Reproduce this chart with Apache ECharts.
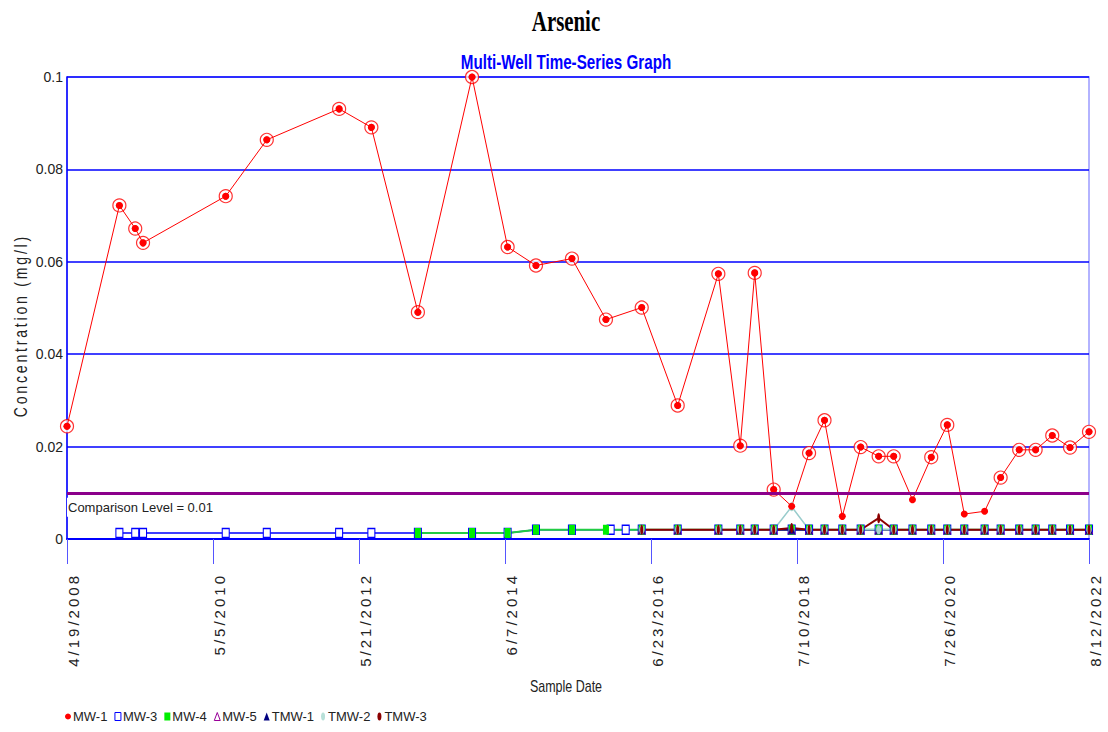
<!DOCTYPE html>
<html>
<head>
<meta charset="utf-8">
<script src="https://cdn.jsdelivr.net/npm/echarts@6/dist/echarts.min.js"></script>
<style>html,body{margin:0;padding:0;background:#fff}#chart{width:1108px;height:732px}</style>
</head>
<body>
<div id="chart"></div>
<script>
// ---------------- DATA ----------------
const tickLabels = ['4/19/2008', '5/5/2010', '5/21/2012', '6/7/2014', '6/23/2016', '7/10/2018', '7/26/2020', '8/12/2022'];
const comparisonLevel = 0.01;

const mw1Dates = ['2008-04-19','2009-01-12','2009-04-03','2009-05-13','2010-07-10','2011-02-05','2012-02-10','2012-07-24',
  '2013-03-19','2013-12-21','2014-06-21','2014-11-13','2015-05-16','2015-11-06','2016-05-07','2016-11-07','2017-06-03',
  '2017-09-23','2017-12-06','2018-03-13','2018-06-13','2018-09-10','2018-11-28','2019-02-27','2019-06-01','2019-09-01',
  '2019-11-17','2020-02-21','2020-05-27','2020-08-17','2020-11-12','2021-02-24','2021-05-17','2021-08-20','2021-11-12',
  '2022-02-05','2022-05-07','2022-08-12'];
const mw1Values = [0.0244,0.0722,0.0672,0.0641,0.0742,0.0864,0.0931,0.0891,0.0491,0.1,0.0632,0.0592,0.0607,0.0475,
  0.0501,0.0289,0.0574,0.0202,0.0576,0.0107,0.0071,0.0186,0.0257,0.0049,0.0199,0.0179,0.0179,0.0085,0.0177,0.0247,
  0.0054,0.006,0.0133,0.0193,0.0193,0.0224,0.0198,0.0232];
// 1 = detected (ringed marker), 0 = plain dot
const mw1Detected = [1,1,1,1,1,1,1,1,1,1,1,1,1,1,1,1,1,1,1,1,0,1,1,0,1,1,1,0,1,1,0,0,1,1,1,1,1,1];

const mw3Dates = ['2009-01-12','2009-04-03','2009-05-13','2010-07-10','2011-02-05','2012-02-10','2012-07-24','2013-03-19',
  '2013-12-21','2014-06-21','2014-11-13','2015-05-16','2015-11-30','2016-02-15','2016-05-07','2016-11-07','2017-06-03',
  '2017-09-23','2017-12-06','2018-03-13','2018-06-13','2018-09-10','2018-11-28','2019-02-27','2019-06-01','2019-09-01',
  '2019-11-17','2020-02-21','2020-05-27','2020-08-17','2020-11-12','2021-02-24','2021-05-17','2021-08-20','2021-11-12',
  '2022-02-05','2022-05-07','2022-08-12'];
const mw3Values = [0.0013,0.0013,0.0013,0.0013,0.0013,0.0013,0.0013,0.0013,0.0013,0.0013,0.002,0.002,0.002,0.002,
  0.002,0.002,0.002,0.002,0.002,0.002,0.002,0.002,0.002,0.002,0.002,0.002,0.002,0.002,0.002,0.002,0.002,0.002,0.002,
  0.002,0.002,0.002,0.002,0.002];

const mw4Dates = ['2013-03-19','2013-12-21','2014-06-21','2014-11-13','2015-05-16','2015-11-06','2016-05-07','2016-11-07',
  '2017-06-03','2017-09-23','2017-12-06','2018-03-13','2018-06-13','2018-09-10','2018-11-28','2019-02-27','2019-06-01',
  '2019-09-01','2019-11-17','2020-02-21','2020-05-27','2020-08-17','2020-11-12','2021-02-24','2021-05-17','2021-08-20',
  '2021-11-12','2022-02-05','2022-05-07','2022-08-12'];
const mw4Values = [0.0013,0.0013,0.0013,0.002,0.002,0.002,0.002,0.002,0.002,0.002,0.002,0.002,0.002,0.002,0.002,
  0.002,0.002,0.002,0.002,0.002,0.002,0.002,0.002,0.002,0.002,0.002,0.002,0.002,0.002,0.002];

const lateDates = ['2016-05-07','2016-11-07','2017-06-03','2017-09-23','2017-12-06','2018-03-13','2018-06-13','2018-09-10',
  '2018-11-28','2019-02-27','2019-06-01','2019-09-01','2019-11-17','2020-02-21','2020-05-27','2020-08-17','2020-11-12',
  '2021-02-24','2021-05-17','2021-08-20','2021-11-12','2022-02-05','2022-05-07','2022-08-12'];
const mw5Values  = [0.002,0.002,0.002,0.002,0.002,0.002,0.002,0.002,0.002,0.002,0.002,0.002,0.002,0.002,0.002,0.002,
  0.002,0.002,0.002,0.002,0.002,0.002,0.002,0.002];
const tmw1Values = [0.002,0.002,0.002,0.002,0.002,0.002,0.002,0.002,0.002,0.002,0.002,0.002,0.002,0.002,0.002,0.002,
  0.002,0.002,0.002,0.002,0.002,0.002,0.002,0.002];
const tmw2Values = [0.002,0.002,0.002,0.002,0.002,0.002,0.007,0.002,0.002,0.002,0.002,0.002,0.002,0.002,0.002,0.002,
  0.002,0.002,0.002,0.002,0.002,0.002,0.002,0.002];
const tmw3Values = [0.002,0.002,0.002,0.002,0.002,0.002,0.0024,0.002,0.002,0.002,0.002,0.0045,0.002,0.002,0.002,0.002,
  0.002,0.002,0.002,0.002,0.002,0.002,0.002,0.002];

// ---------------- HELPERS ----------------
const baseTime = Date.parse(mw1Dates[0]);
const dayOf = d => (Date.parse(d) - baseTime) / 86400000;
const spanDays = dayOf(mw1Dates[mw1Dates.length - 1]);
const tickStep = spanDays / (tickLabels.length - 1);
const tickValues = tickLabels.map((_, i) => i * tickStep);
const pts = (dates, vals) => dates.map((d, i) => [dayOf(d), vals[i]]);
const spaced = s => s.split('').join('\u2009');

const SANS = "'Liberation Sans', Arial, sans-serif";
const ELLIPSE = 'path://M5,0C8,0 10,4 10,10C10,16 8,20 5,20C2,20 0,16 0,10C0,4 2,0 5,0Z';

function lineSeries(name, data, color, lineWidth, symbol, size, itemStyle) {
  return {
    name, type: 'line', data, symbol, symbolSize: size,
    lineStyle: { color, width: lineWidth },
    itemStyle: itemStyle || { color },
    emphasis: { disabled: true }, silent: true
  };
}

const mw1Pts = pts(mw1Dates, mw1Values);
const mw1Ringed = mw1Pts.filter((_, i) => mw1Detected[i] === 1);

const chart = echarts.init(document.getElementById('chart'), null, { renderer: 'svg' });
chart.setOption({
  animation: false,
  backgroundColor: '#fff',
  grid: { left: 67, right: 19, top: 77, bottom: 193, show: true, borderColor: '#9a9aff', borderWidth: 1.5 },
  xAxis: {
    type: 'value', min: 0, max: spanDays,
    axisLine: { show: true, onZero: false, lineStyle: { color: '#0000ff', width: 2 } },
    axisTick: { show: true, customValues: tickValues, length: 25, lineStyle: { color: '#5555ff', width: 1 } },
    axisLabel: {
      customValues: tickValues, rotate: 90, margin: 37,
      fontFamily: SANS, fontSize: 15, lineHeight: 12, color: '#222',
      formatter: v => '\n' + spaced(tickLabels[Math.round(v / tickStep)] || '')
    },
    splitLine: { show: false }
  },
  yAxis: {
    type: 'value', min: 0, max: 0.1, interval: 0.02,
    axisLine: { show: true, lineStyle: { color: '#0000ff', width: 1.5 } },
    axisTick: { show: false },
    axisLabel: { margin: 4, fontFamily: SANS, fontSize: 14, color: '#222' },
    splitLine: { show: true, lineStyle: { color: '#0000ff', width: 1.5 } }
  },
  legend: {
    left: 60, top: 705, itemWidth: 6, itemHeight: 8, itemGap: 7,
    textStyle: { fontFamily: SANS, fontSize: 13, color: '#222', padding: [0, 0, 0, -3] },
    selectedMode: false,
    data: [
      { name: 'MW-1', icon: 'circle', itemStyle: { color: '#ff0000' } },
      { name: 'MW-3', icon: 'rect', itemStyle: { color: '#ffffff', borderColor: '#0000ff', borderWidth: 1 } },
      { name: 'MW-4', icon: 'rect', itemStyle: { color: '#00ee00' } },
      { name: 'MW-5', icon: 'triangle', itemStyle: { color: '#ffffff', borderColor: '#990099', borderWidth: 1 } },
      { name: 'TMW-1', icon: 'triangle', itemStyle: { color: '#000080' } },
      { name: 'TMW-2', icon: ELLIPSE, itemStyle: { color: '#b8e0d8' } },
      { name: 'TMW-3', icon: ELLIPSE, itemStyle: { color: '#8b0000' } }
    ]
  },
  graphic: [
    { type: 'text', x: 566, y: 21, scaleX: 0.72, silent: true,
      style: { text: 'Arsenic', fontFamily: "'Liberation Serif', serif", fontWeight: 'bold', fontSize: 29, fill: '#000', align: 'center', verticalAlign: 'middle' } },
    { type: 'text', x: 566, y: 62, scaleX: 0.76, silent: true,
      style: { text: 'Multi-Well Time-Series Graph', fontFamily: SANS, fontWeight: 'bold', fontSize: 20, fill: '#0000ff', align: 'center', verticalAlign: 'middle' } },
    { type: 'text', x: 20, y: 327, rotation: Math.PI / 2, scaleX: 0.78, silent: true,
      style: { text: spaced('Concentration (mg/l)'), fontFamily: SANS, fontSize: 18, fill: '#222', align: 'center', verticalAlign: 'middle' } },
    { type: 'text', x: 566, y: 686, scaleX: 0.78, silent: true,
      style: { text: 'Sample Date', fontFamily: SANS, fontSize: 16, fill: '#222', align: 'center', verticalAlign: 'middle' } }
  ],
  series: [
    lineSeries('MW-3', pts(mw3Dates, mw3Values), '#0000ff', 1.5, 'rect', [7, 9],
      { color: '#ffffff', borderColor: '#0000ff', borderWidth: 1.2 }),
    lineSeries('MW-4', pts(mw4Dates, mw4Values), '#22cc44', 2, 'rect', [6, 10], { color: '#00ee00' }),
    lineSeries('MW-5', pts(lateDates, mw5Values), '#990099', 1.5, 'triangle', [7, 8],
      { color: '#ffffff', borderColor: '#990099', borderWidth: 1 }),
    lineSeries('TMW-1', pts(lateDates, tmw1Values), '#000080', 1.5, 'triangle', [7, 8], { color: '#000080' }),
    lineSeries('TMW-2', pts(lateDates, tmw2Values), '#99cccc', 1.5, ELLIPSE, [5, 9], { color: '#a8d4cc' }),
    lineSeries('TMW-3', pts(lateDates, tmw3Values), '#8b0000', 2, ELLIPSE, [3, 10], { color: '#8b0000' }),
    Object.assign(lineSeries('MW-1', mw1Pts, '#ff0000', 1, 'circle', 7, { color: '#ff0000' }), {
      markLine: {
        silent: true, symbol: ['none', 'none'], animation: false,
        data: [{ yAxis: comparisonLevel }],
        lineStyle: { color: '#8b008b', width: 3, type: 'solid' },
        label: {
          show: true, position: 'insideStartBottom', distance: [0, 5],
          formatter: 'Comparison Level = ' + comparisonLevel,
          fontFamily: SANS, fontSize: 13, color: '#222',
          backgroundColor: '#fff', padding: [3, 3, 3, 1]
        },
        emphasis: { disabled: true }
      }
    }),
    { name: 'MW-1 ring', type: 'scatter', data: mw1Ringed, symbol: 'circle', symbolSize: 13, silent: true,
      itemStyle: { color: '#ffffff', borderColor: '#ff0000', borderWidth: 1.2 }, emphasis: { disabled: true } },
    { name: 'MW-1 dot', type: 'scatter', data: mw1Ringed, symbol: 'circle', symbolSize: 7, silent: true,
      itemStyle: { color: '#ff0000' }, emphasis: { disabled: true } }
  ]
});
</script>
</body>
</html>
